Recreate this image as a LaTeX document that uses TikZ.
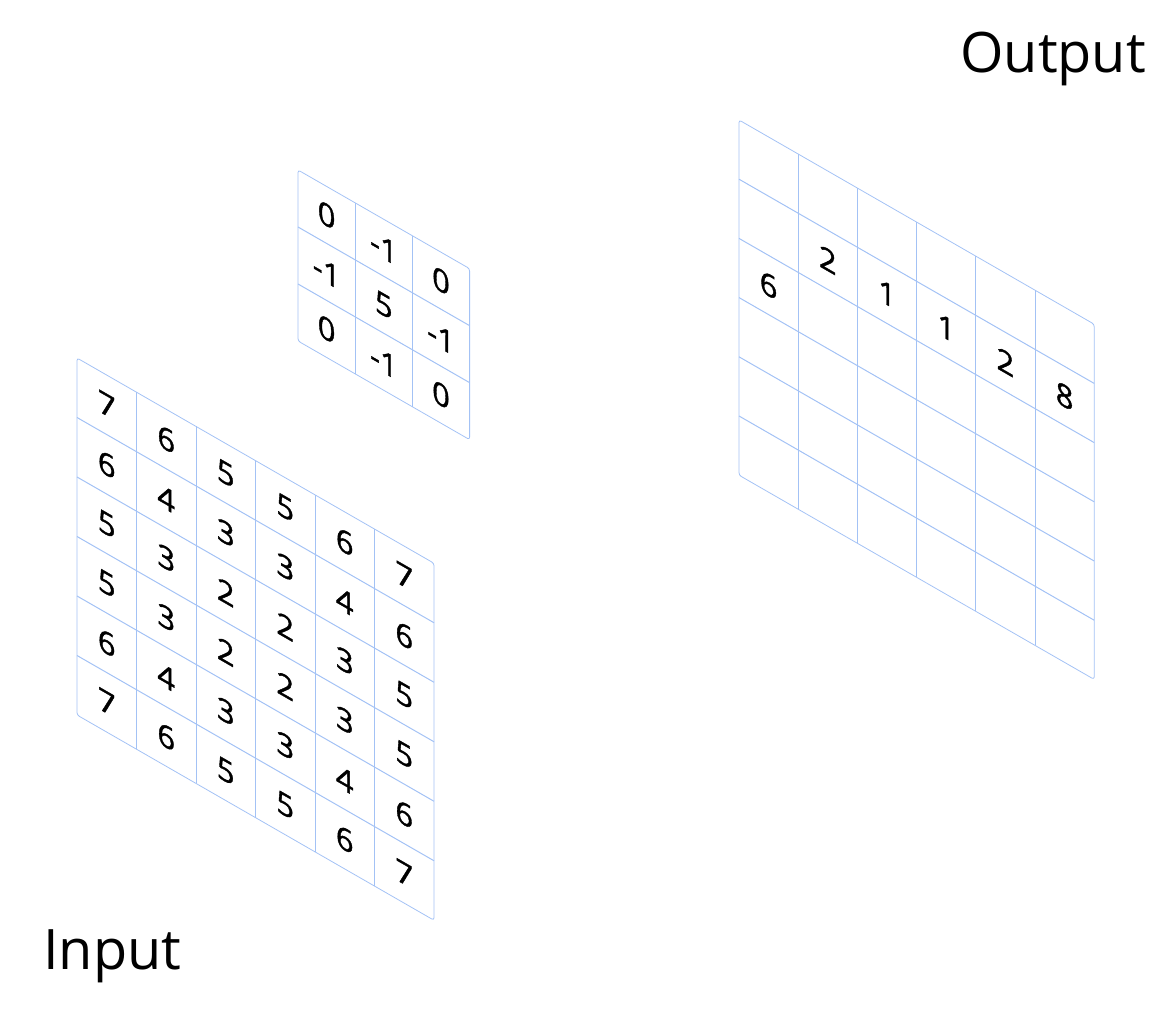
\documentclass[tikz,border=0pt]{standalone}
\usepackage{fontspec}
\setmainfont{Open Sans}
\newfontfamily\cellfont[FakeBold=1.2]{Open Sans}
\usetikzlibrary{positioning}
\definecolor{gridcol}{rgb}{0.64,0.76,0.96}
\tikzset{
  gridline/.style={draw=gridcol, line width=1bp},
  gridframe/.style={draw=gridcol, line width=0.8bp, rounded corners=2.5bp},
  cellnum/.style={inner sep=0pt, font=\cellfont\fontsize{31}{36}\selectfont},
  caption/.style={inner sep=0pt, font=\fontsize{56}{64}\selectfont},
}

\begin{document}
\begin{tikzpicture}[line join=bevel]
  \useasboundingbox (0bp,0bp) rectangle (1170bp,1035bp);
%%
  % Grid: input
\begin{scope}[shift={(77bp,677bp)}, yslant=-0.575, transform shape]
  \draw[gridframe] (0bp,0bp) rectangle (357bp,-357bp);
  \draw[gridline] (59.5bp,0bp) -- (59.5bp,-357bp);
  \draw[gridline] (119bp,0bp) -- (119bp,-357bp);
  \draw[gridline] (178.5bp,0bp) -- (178.5bp,-357bp);
  \draw[gridline] (238bp,0bp) -- (238bp,-357bp);
  \draw[gridline] (297.5bp,0bp) -- (297.5bp,-357bp);
  \draw[gridline] (0bp,-59.5bp) -- (357bp,-59.5bp);
  \draw[gridline] (0bp,-119bp) -- (357bp,-119bp);
  \draw[gridline] (0bp,-178.5bp) -- (357bp,-178.5bp);
  \draw[gridline] (0bp,-238bp) -- (357bp,-238bp);
  \draw[gridline] (0bp,-297.5bp) -- (357bp,-297.5bp);
  % Cells: input, row 1
  \node[cellnum] (in-1-1) at (29.75bp,-29.75bp) {7};
  \node[cellnum] (in-1-2) at (89.25bp,-29.75bp) {6};
  \node[cellnum] (in-1-3) at (148.75bp,-29.75bp) {5};
  \node[cellnum] (in-1-4) at (208.25bp,-29.75bp) {5};
  \node[cellnum] (in-1-5) at (267.75bp,-29.75bp) {6};
  \node[cellnum] (in-1-6) at (327.25bp,-29.75bp) {7};
  % Cells: input, row 2
  \node[cellnum] (in-2-1) at (29.75bp,-89.25bp) {6};
  \node[cellnum] (in-2-2) at (89.25bp,-89.25bp) {4};
  \node[cellnum] (in-2-3) at (148.75bp,-89.25bp) {3};
  \node[cellnum] (in-2-4) at (208.25bp,-89.25bp) {3};
  \node[cellnum] (in-2-5) at (267.75bp,-89.25bp) {4};
  \node[cellnum] (in-2-6) at (327.25bp,-89.25bp) {6};
  % Cells: input, row 3
  \node[cellnum] (in-3-1) at (29.75bp,-148.75bp) {5};
  \node[cellnum] (in-3-2) at (89.25bp,-148.75bp) {3};
  \node[cellnum] (in-3-3) at (148.75bp,-148.75bp) {2};
  \node[cellnum] (in-3-4) at (208.25bp,-148.75bp) {2};
  \node[cellnum] (in-3-5) at (267.75bp,-148.75bp) {3};
  \node[cellnum] (in-3-6) at (327.25bp,-148.75bp) {5};
  % Cells: input, row 4
  \node[cellnum] (in-4-1) at (29.75bp,-208.25bp) {5};
  \node[cellnum] (in-4-2) at (89.25bp,-208.25bp) {3};
  \node[cellnum] (in-4-3) at (148.75bp,-208.25bp) {2};
  \node[cellnum] (in-4-4) at (208.25bp,-208.25bp) {2};
  \node[cellnum] (in-4-5) at (267.75bp,-208.25bp) {3};
  \node[cellnum] (in-4-6) at (327.25bp,-208.25bp) {5};
  % Cells: input, row 5
  \node[cellnum] (in-5-1) at (29.75bp,-267.75bp) {6};
  \node[cellnum] (in-5-2) at (89.25bp,-267.75bp) {4};
  \node[cellnum] (in-5-3) at (148.75bp,-267.75bp) {3};
  \node[cellnum] (in-5-4) at (208.25bp,-267.75bp) {3};
  \node[cellnum] (in-5-5) at (267.75bp,-267.75bp) {4};
  \node[cellnum] (in-5-6) at (327.25bp,-267.75bp) {6};
  % Cells: input, row 6
  \node[cellnum] (in-6-1) at (29.75bp,-327.25bp) {7};
  \node[cellnum] (in-6-2) at (89.25bp,-327.25bp) {6};
  \node[cellnum] (in-6-3) at (148.75bp,-327.25bp) {5};
  \node[cellnum] (in-6-4) at (208.25bp,-327.25bp) {5};
  \node[cellnum] (in-6-5) at (267.75bp,-327.25bp) {6};
  \node[cellnum] (in-6-6) at (327.25bp,-327.25bp) {7};
\end{scope}
  % Grid: kernel
\begin{scope}[shift={(298bp,865bp)}, yslant=-0.575, transform shape]
  \draw[gridframe] (0bp,0bp) rectangle (171.6bp,-171bp);
  \draw[gridline] (57.2bp,0bp) -- (57.2bp,-171bp);
  \draw[gridline] (114.4bp,0bp) -- (114.4bp,-171bp);
  \draw[gridline] (0bp,-57bp) -- (171.6bp,-57bp);
  \draw[gridline] (0bp,-114bp) -- (171.6bp,-114bp);
  % Cells: kernel
  \node[cellnum] (k-1-1) at (28.6bp,-28.5bp) {0};
  \node[cellnum] (k-1-2) at (85.8bp,-28.5bp) {-1};
  \node[cellnum] (k-1-3) at (143bp,-28.5bp) {0};
  \node[cellnum] (k-2-1) at (28.6bp,-85.5bp) {-1};
  \node[cellnum] (k-2-2) at (85.8bp,-85.5bp) {5};
  \node[cellnum] (k-2-3) at (143bp,-85.5bp) {-1};
  \node[cellnum] (k-3-1) at (28.6bp,-142.5bp) {0};
  \node[cellnum] (k-3-2) at (85.8bp,-142.5bp) {-1};
  \node[cellnum] (k-3-3) at (143bp,-142.5bp) {0};
\end{scope}
  % Grid: output
\begin{scope}[shift={(739bp,915bp)}, yslant=-0.575, transform shape]
  \draw[gridframe] (0bp,0bp) rectangle (355.2bp,-355.2bp);
  \draw[gridline] (59.2bp,0bp) -- (59.2bp,-355.2bp);
  \draw[gridline] (118.4bp,0bp) -- (118.4bp,-355.2bp);
  \draw[gridline] (177.6bp,0bp) -- (177.6bp,-355.2bp);
  \draw[gridline] (236.8bp,0bp) -- (236.8bp,-355.2bp);
  \draw[gridline] (296bp,0bp) -- (296bp,-355.2bp);
  \draw[gridline] (0bp,-59.2bp) -- (355.2bp,-59.2bp);
  \draw[gridline] (0bp,-118.4bp) -- (355.2bp,-118.4bp);
  \draw[gridline] (0bp,-177.6bp) -- (355.2bp,-177.6bp);
  \draw[gridline] (0bp,-236.8bp) -- (355.2bp,-236.8bp);
  \draw[gridline] (0bp,-296bp) -- (355.2bp,-296bp);
  % Cells: output
  \node[cellnum] (out-3-1) at (29.6bp,-148bp) {6};
  \node[cellnum] (out-2-2) at (88.8bp,-88.8bp) {2};
  \node[cellnum] (out-2-3) at (148bp,-88.8bp) {1};
  \node[cellnum] (out-2-4) at (207.2bp,-88.8bp) {1};
  \node[cellnum] (out-2-5) at (266.4bp,-88.8bp) {2};
  \node[cellnum] (out-2-6) at (325.6bp,-88.8bp) {8};
\end{scope}
  % Captions
  \node[caption, anchor=base west] (input) at (43bp,65bp) {Input};
  \node[caption, anchor=base east] (output) at (1146bp,962bp) {Output};
%
\end{tikzpicture}
\end{document}
